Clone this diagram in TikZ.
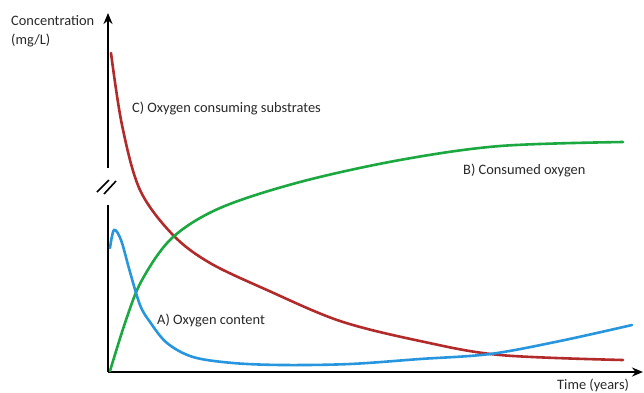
\documentclass[tikz,border=0pt]{standalone}
\usepackage{fontspec}
\setmainfont{Carlito}
\usetikzlibrary{arrows.meta}
\definecolor{cred}{RGB}{178,42,42}
\definecolor{cgreen}{RGB}{28,168,64}
\definecolor{cblue}{RGB}{40,150,222}
\definecolor{ctext}{RGB}{40,40,40}
\tikzset{
  lbl/.style={anchor=west,inner sep=0pt,text=ctext,font=\fontsize{14.4}{16}\selectfont},
  axis/.style={line width=2.2pt,black},
  curve/.style={line width=2.6pt,line cap=round,smooth,tension=0.55},
  brk/.style={line width=1.6pt,black}
}
\begin{document}
\begin{tikzpicture}[x=1pt,y=-1pt]
\useasboundingbox (0,0) rectangle (644,392);
% axes
\coordinate (ytop) at (108,13);
\coordinate (ybrk1) at (108,168);
\coordinate (ybrk2) at (108,205);
\coordinate (orig) at (108,372);
\coordinate (xend) at (643,372);
\draw[axis,-{Stealth[length=11pt,width=9pt]}] (ybrk1) -- (ytop);
\draw[axis] (ybrk2) -- (orig);
\draw[axis,-{Stealth[length=11pt,width=9pt]}] (orig) -- (xend);
% break marks
\coordinate (b1a) at (97,192); \coordinate (b1b) at (109,180);
\coordinate (b2a) at (104,194); \coordinate (b2b) at (116,181);
\draw[brk] (b1a) -- (b1b);
\draw[brk] (b2a) -- (b2b);
% curves
\draw[curve,cred] plot coordinates {(111,53) (122,125) (140,190) (173,235) (210,263) (267,290) (340,321) (420,341) (500,355) (623,360)};
\draw[curve,cgreen] plot coordinates {(110,371) (126,320) (142,280) (172,238) (220,208) (300,182) (400,160) (500,146) (623,142)};
\draw[curve,cblue] plot coordinates {(110,248) (114,230) (121,240) (130,272) (140,305) (150,322) (167,343) (193,357) (233,363) (283,365) (350,364) (420,359) (490,354) (560,341) (632,325)};
% labels
\node[lbl] (ylab1) at (11,21) {Concentration};
\node[lbl] (ylab2) at (11,40) {(mg/L)};
\node[lbl] (xlab) at (557,385) {Time (years)};
\node[lbl] (labC) at (132,108) {C) Oxygen consuming substrates};
\node[lbl] (labB) at (463,170) {B) Consumed oxygen};
\node[lbl] (labA) at (157,320) {A) Oxygen content};
\end{tikzpicture}
\end{document}
